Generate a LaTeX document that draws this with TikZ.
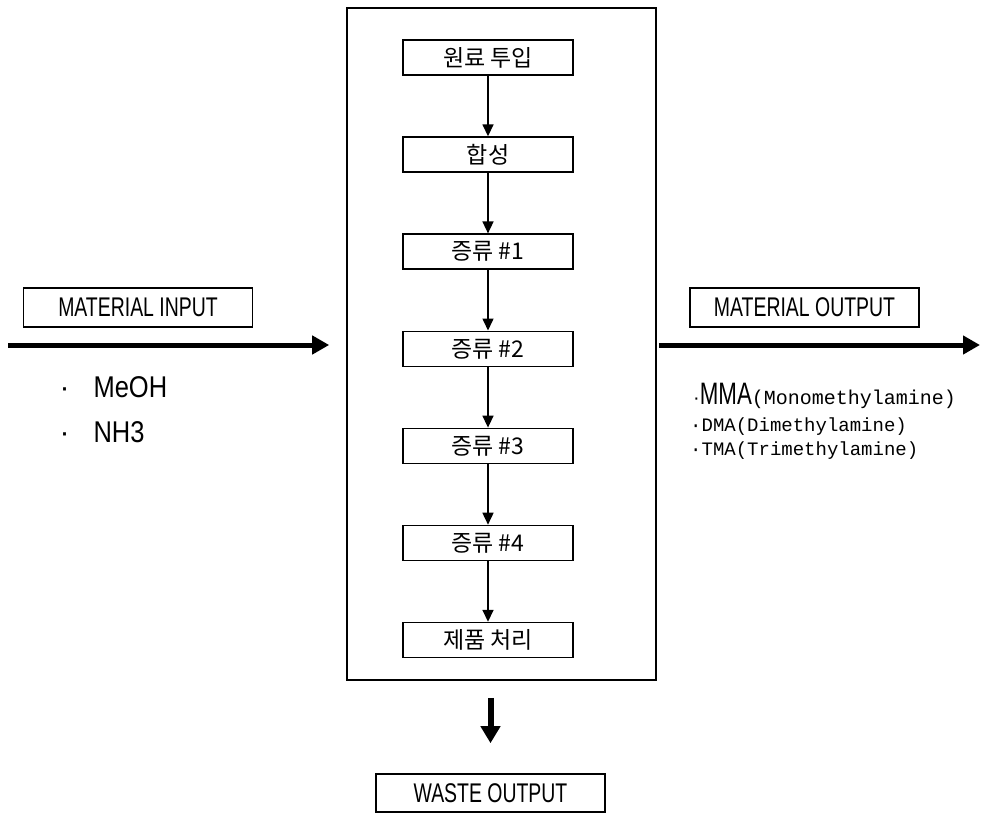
\documentclass[tikz,border=0pt]{standalone}
\usepackage{fontspec}
\usepackage{graphicx}
\setmainfont{Liberation Sans}
\newfontfamily\kofont{Noto Sans CJK KR}
\newfontfamily\narrowmono{Liberation Mono}
\usetikzlibrary{arrows.meta,positioning}

\newcommand{\slim}[1]{\scalebox{0.72}[1]{#1}}

\begin{document}
\begin{tikzpicture}[x=1pt,y=-1pt,
    stepbox/.style={draw,line width=1.6pt,minimum width=170pt,minimum height=35pt,
        inner sep=0pt,font=\kofont\fontsize{23}{23}\selectfont},
    labelbox/.style={draw,line width=1.6pt,minimum width=229pt,minimum height=39pt,
        inner sep=0pt,font=\fontsize{27}{27}\selectfont},
    flow/.style={line width=1.6pt,-{Triangle[length=12pt,width=11pt]}},
    bigflow/.style={line width=5pt,-{Triangle[length=17pt,width=18pt]}},
    node distance=60.5pt]
\useasboundingbox (0,0) rectangle (982,821);

% plant block
\node[draw,line width=1.6pt,minimum width=309pt,minimum height=672pt,inner sep=0pt]
    (plant) at (501.5,344) {};

\node[stepbox] (feed) at (488,57.5) {원료 투입};
\node[stepbox,below=of feed] (synth) {합성};
\node[stepbox,below=of synth] (dist1) {증류 \#1};
\node[stepbox,below=of dist1] (dist2) {증류 \#2};
\node[stepbox,below=of dist2] (dist3) {증류 \#3};
\node[stepbox,below=of dist3] (dist4) {증류 \#4};
\node[stepbox,below=of dist4] (prod) {제품 처리};

\foreach \a/\b in {feed/synth,synth/dist1,dist1/dist2,dist2/dist3,dist3/dist4,dist4/prod}
    \draw[flow] (\a) -- (\b);

% input side
\node[labelbox] (inlabel) at (138,307.5) {\slim{MATERIAL INPUT}};
\coordinate (in) at (8,345);
\draw[bigflow,shorten >=17pt] (in) -- (plant.west |- in);
\node[anchor=west,font=\fontsize{30}{30}\selectfont] (meoh) at (56,387)
    {\makebox[34pt][l]{·}\scalebox{0.85}[1]{MeOH}};
\node[anchor=west,font=\fontsize{30}{30}\selectfont] (nh3) at (56,432)
    {\makebox[34pt][l]{·}\scalebox{0.85}[1]{NH3}};

% output side
\node[labelbox] (outlabel) at (804.5,307.5) {\slim{MATERIAL OUTPUT}};
\coordinate (out) at (980,345);
\draw[bigflow,shorten <=2pt] (plant.east |- out) -- (out);
\node[anchor=west,inner sep=0pt,font=\fontsize{20}{20}\selectfont] (mma) at (693,396)
    {·{\fontsize{31}{31}\selectfont\slim{MMA}}{\narrowmono(Monomethylamine)}};
\node[anchor=west,inner sep=0pt,font=\narrowmono\fontsize{19}{19}\selectfont] (dma) at (690,427)
    {·DMA(Dimethylamine)};
\node[anchor=west,inner sep=0pt,font=\narrowmono\fontsize{19}{19}\selectfont] (tma) at (690,451)
    {·TMA(Trimethylamine)};

% waste
\node[labelbox,minimum height=38pt] (waste) at (490.5,793) {\slim{WASTE OUTPUT}};
\draw[line width=6pt,-{Triangle[length=17pt,width=19pt]},shorten <=17pt,shorten >=30pt]
    (plant.south -| waste) -- (waste.north);
\end{tikzpicture}
\end{document}
